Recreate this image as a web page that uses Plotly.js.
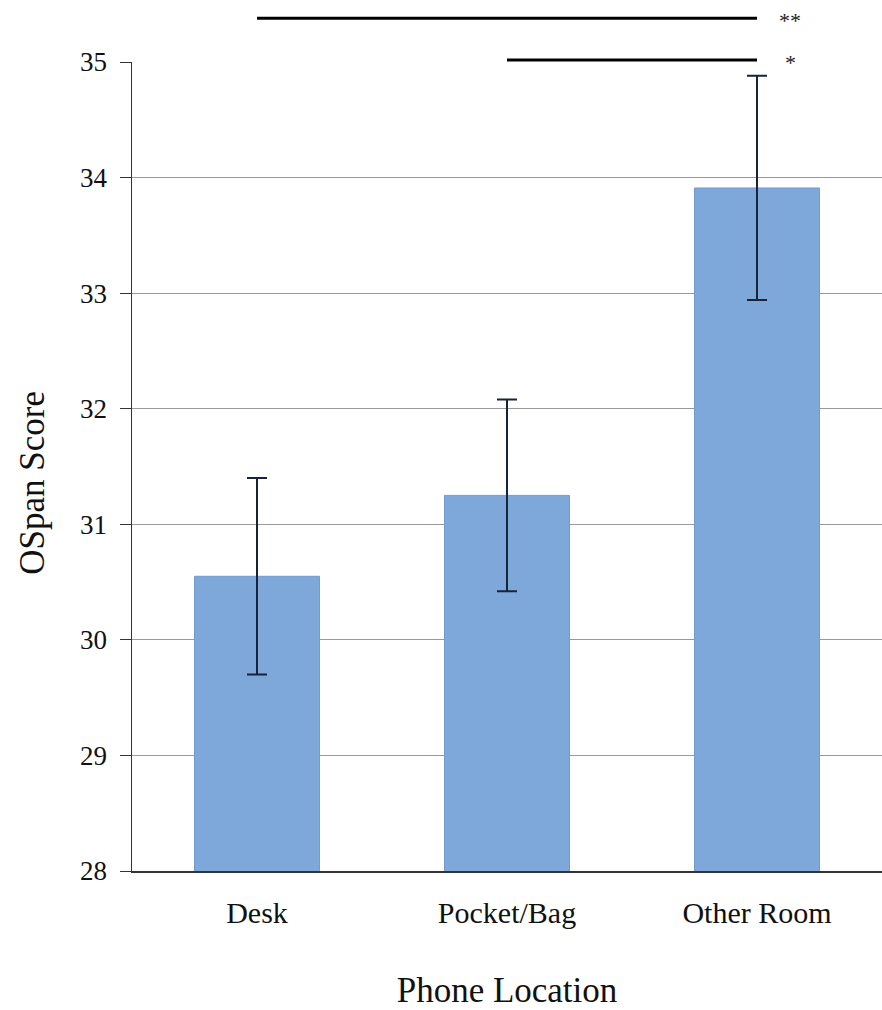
<!DOCTYPE html>
<html>
<head>
<meta charset="utf-8">
<script src="https://cdn.plot.ly/plotly-3.0.1.min.js"></script>
<style>html,body{margin:0;padding:0;background:#fff;}</style>
</head>
<body>
<div id="chart" style="width:882px;height:1010px;"></div>
<script>
const categories = ["Desk", "Pocket/Bag", "Other Room"];
const scores = [30.55, 31.25, 33.91];
const errors = [0.85, 0.83, 0.97];
const yTicks = [28, 29, 30, 31, 32, 33, 34, 35];
const sigPairs = [[0, 2], [1, 2]];
const sigLabels = ["**", "*"];
const sigLevels = [1.054, 1.0025];

const serif = "Liberation Serif, Times New Roman, serif";

const trace = {
  type: "bar",
  x: categories,
  y: scores,
  width: 0.5,
  marker: {color: "#7ea7da", line: {color: "#729bd0", width: 1}},
  error_y: {type: "data", array: errors, visible: true, color: "#16233a", thickness: 2, width: 10},
  hoverinfo: "skip"
};

const shapes = sigPairs.map((p, i) => ({
  type: "line", xref: "x", yref: "paper",
  x0: categories[p[0]], x1: categories[p[1]],
  y0: sigLevels[i], y1: sigLevels[i],
  line: {color: "#000", width: 3}
}));

const annotations = sigPairs.map((p, i) => ({
  xref: "x", yref: "paper", x: categories[p[1]], y: sigLevels[i],
  text: sigLabels[i], showarrow: false, xshift: 33, yshift: 12,
  font: {family: serif, size: 22, color: "#222"}
}));

annotations.push({
  xref: "paper", yref: "paper", x: -0.132, y: 0.48,
  text: "OSpan Score", textangle: -90, showarrow: false,
  xanchor: "center", yanchor: "middle",
  font: {family: serif, size: 35, color: "#111"}
});

const layout = {
  width: 882, height: 1010,
  margin: {l: 132, r: 0, t: 62, b: 139},
  paper_bgcolor: "#fff", plot_bgcolor: "#fff",
  showlegend: false,
  bargap: 0.5,
  xaxis: {
    range: [-0.5, 2.5],
    showline: true, linecolor: "#333", linewidth: 1.5,
    ticks: "", showgrid: false,
    ticklabelstandoff: 14,
    tickfont: {family: serif, size: 30, color: "#111"},
    title: {text: "Phone Location", font: {family: serif, size: 35, color: "#111"}, standoff: 52}
  },
  yaxis: {
    range: [28, 35],
    tickvals: yTicks,
    showline: true, linecolor: "#333", linewidth: 1.5,
    ticks: "outside", ticklen: 11, tickcolor: "#333", tickwidth: 1,
    showgrid: true, gridcolor: "#999", gridwidth: 1,
    zeroline: false,
    ticklabelstandoff: 7,
    tickfont: {family: serif, size: 27, color: "#111"}
  },
  shapes: shapes,
  annotations: annotations
};

Plotly.newPlot("chart", [trace], layout, {displayModeBar: false, staticPlot: true});
</script>
</body>
</html>
